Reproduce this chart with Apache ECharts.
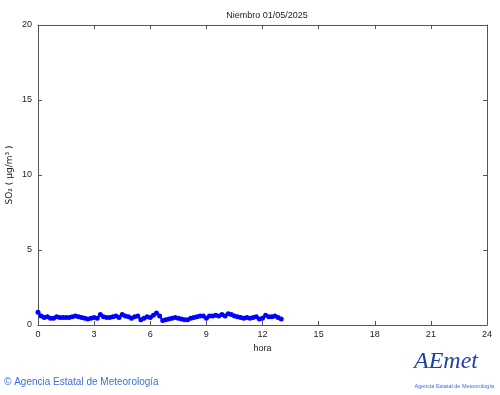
<!DOCTYPE html>
<html><head><meta charset="utf-8">
<script src="https://cdn.jsdelivr.net/npm/echarts@6/dist/echarts.min.js"></script>
<style>html,body{margin:0;padding:0;background:#fff}#c{width:500px;height:395px}</style>
</head><body><div id="c"></div>
<script>
// SO2 readings every 10 minutes starting 00:00
const stepMinutes = 10;
const so2Values = [0.85,0.6,0.5,0.55,0.45,0.45,0.55,0.5,0.5,0.5,0.5,0.55,0.6,0.55,0.5,0.45,0.4,0.45,
0.5,0.45,0.7,0.55,0.5,0.5,0.55,0.6,0.5,0.7,0.6,0.55,0.45,0.55,0.6,0.35,0.45,0.55,
0.5,0.65,0.8,0.6,0.3,0.35,0.4,0.45,0.5,0.45,0.4,0.35,0.35,0.45,0.5,0.55,0.6,0.6,
0.45,0.6,0.6,0.65,0.6,0.7,0.6,0.75,0.7,0.6,0.55,0.5,0.45,0.5,0.45,0.5,0.55,0.4,
0.45,0.65,0.55,0.55,0.6,0.5,0.4];
const xTicks = [0,3,6,9,12,15,18,21,24];
const yTicks = [0,5,10,15,20];
const titleText = 'Niembro 01/05/2025';
const xName = 'hora';
const yName = 'SO₂ ( µg/m³ )';
const footerText = '© Agencia Estatal de Meteorología';

const data = so2Values.map((v,i)=>[i*stepMinutes/60, v]);
const chart = echarts.init(document.getElementById('c'));
function axisCommon(){ return {
  axisLine:{show:true,onZero:false,lineStyle:{color:'#555',width:1}},
  axisTick:{show:true,inside:true,length:4,lineStyle:{color:'#555'}},
  splitLine:{show:false}
};}
chart.setOption({
  animation:false,
  title:{text:titleText,left:262,top:6,textAlign:'center',textStyle:{fontSize:9,fontWeight:'normal',color:'#222',fontFamily:'Liberation Sans'}},
  grid:{left:38,right:13,top:25,bottom:70,outerBoundsMode:'none',containLabel:false},
  xAxis:[
    Object.assign({type:'value',min:0,max:24,interval:3,position:'bottom',
      name:xName,nameLocation:'middle',nameGap:18,nameTextStyle:{fontSize:9,color:'#222',fontFamily:'Liberation Sans'},
      axisLabel:{fontSize:9,color:'#222',margin:5,fontFamily:'Liberation Sans'}},axisCommon()),
    Object.assign({type:'value',min:0,max:24,interval:3,position:'top',axisLabel:{show:false}},axisCommon())
  ],
  yAxis:[
    Object.assign({type:'value',min:0,max:20,interval:5,position:'left',
      axisLabel:{fontSize:9,color:'#222',margin:6,fontFamily:'Liberation Sans'}},axisCommon()),
    Object.assign({type:'value',min:0,max:20,interval:5,position:'right',axisLabel:{show:false}},axisCommon())
  ],
  series:[{type:'line',data:data,symbol:'circle',symbolSize:5,showSymbol:true,
    itemStyle:{color:'#0000ff'},lineStyle:{color:'#0000ff',width:2}}],
  graphic:[
    {type:'text',x:10,y:175,rotation:Math.PI/2,style:{text:yName,fontSize:9,fill:'#222',fontFamily:'DejaVu Sans',align:'center',verticalAlign:'middle'}},
    {type:'text',left:4,top:377,style:{text:footerText,fontSize:10,fill:'#3a6fd8',fontFamily:'Liberation Sans'}},
    {type:'text',left:414,top:350,style:{text:'AEmet',fontSize:24,fontStyle:'italic',fill:'#1f3fa8',fontFamily:'Liberation Serif'}},
    {type:'text',right:6,top:383,style:{text:'Agencia Estatal de Meteorología',fontSize:5.5,fill:'#3a6fd8',fontFamily:'Liberation Sans'}}
  ]
});
</script></body></html>
